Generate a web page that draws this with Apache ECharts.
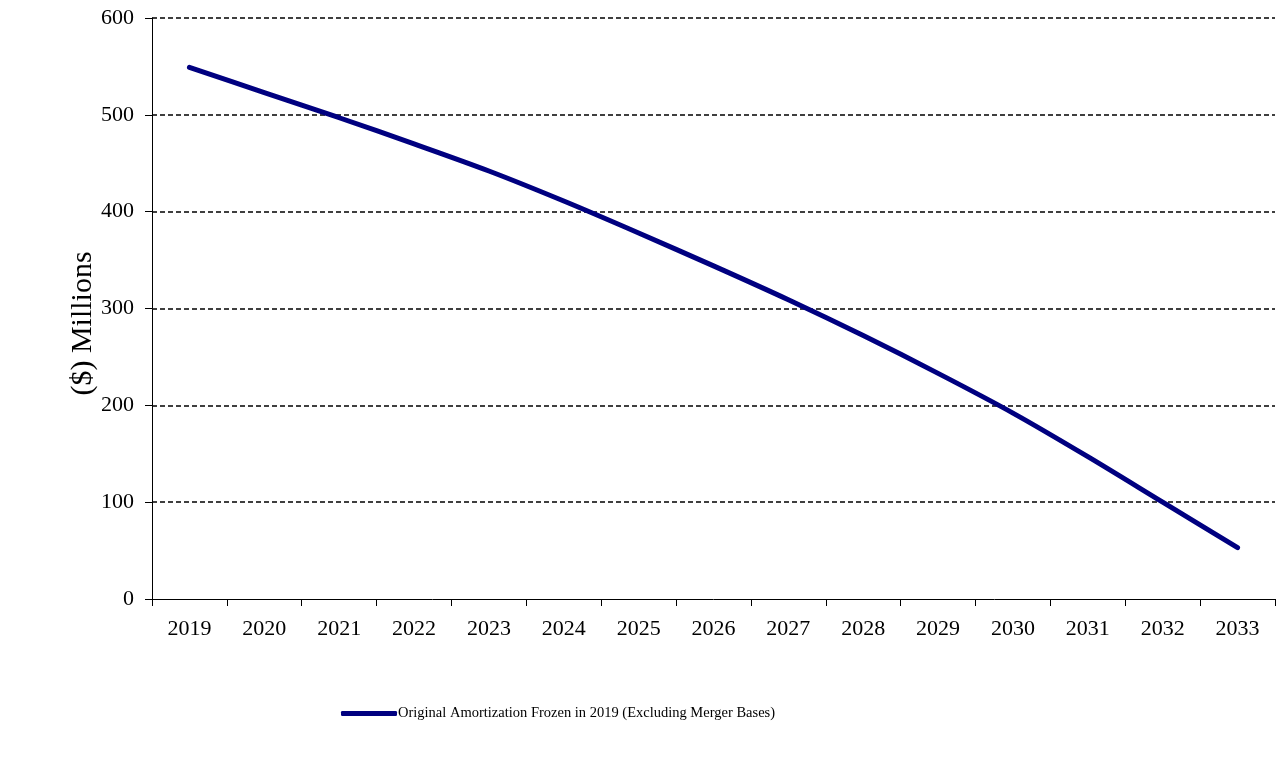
<!DOCTYPE html>
<html>
<head>
<meta charset="utf-8">
<script src="https://cdn.jsdelivr.net/npm/echarts@6/dist/echarts.min.js"></script>
<style>
  html, body { margin: 0; padding: 0; background: #fff; }
  #chart { width: 1279px; height: 759px; }
</style>
</head>
<body>
<div id="chart"></div>
<script>
const years = ['2019', '2020', '2021', '2022', '2023', '2024', '2025', '2026',
    '2027', '2028', '2029', '2030', '2031', '2032', '2033']
const amortization = [549, 523, 497, 470, 442, 411, 378, 344, 309, 272, 233, 192, 147, 100, 53]
const seriesName = 'Original Amortization Frozen in 2019 (Excluding Merger Bases)'

const font = '"Liberation Serif", "Times New Roman", serif'

let myChart = echarts.init(document.getElementById('chart'))
myChart.setOption({
    animation: false,
    grid: {
        left: 152,
        right: 4,
        top: 18,
        bottom: 160
    },
    legend: {
        bottom: 33,
        left: 336,
        itemWidth: 56,
        itemHeight: 5,
        itemGap: 0,
        icon: 'roundRect',
        textStyle: {
            fontFamily: font,
            fontSize: 14.5,
            color: '#000',
            padding: [0, 0, 0, -4]
        },
        data: [seriesName]
    },
    xAxis: {
        type: 'category',
        data: years,
        boundaryGap: true,
        axisLine: {
            lineStyle: { color: '#000', width: 1 }
        },
        axisTick: {
            show: true,
            length: 7,
            lineStyle: { color: '#000' }
        },
        axisLabel: {
            margin: 19,
            fontFamily: font,
            fontSize: 22,
            color: '#000'
        },
        splitLine: { show: false }
    },
    yAxis: {
        type: 'value',
        min: 0,
        max: 600,
        interval: 100,
        name: '($) Millions',
        nameLocation: 'middle',
        nameGap: 54,
        nameMoveOverlap: false,
        nameRotate: 90,
        nameTextStyle: {
            fontFamily: font,
            fontSize: 30,
            color: '#000',
            padding: [0, 30, 0, 0]
        },
        axisLine: {
            show: true,
            lineStyle: { color: '#000', width: 1 }
        },
        axisTick: {
            show: true,
            length: 7,
            lineStyle: { color: '#000' }
        },
        axisLabel: {
            margin: 18,
            fontFamily: font,
            fontSize: 22,
            color: '#000'
        },
        splitLine: {
            show: true,
            showMinLine: false,
            lineStyle: {
                color: '#000',
                type: [5, 3],
                width: 1.5
            }
        }
    },
    series: [{
        name: seriesName,
        type: 'line',
        data: amortization,
        smooth: 0.3,
        symbol: 'none',
        lineStyle: {
            color: '#000080',
            width: 5,
            cap: 'round'
        },
        itemStyle: { color: '#000080' }
    }]
})
</script>
</body>
</html>
